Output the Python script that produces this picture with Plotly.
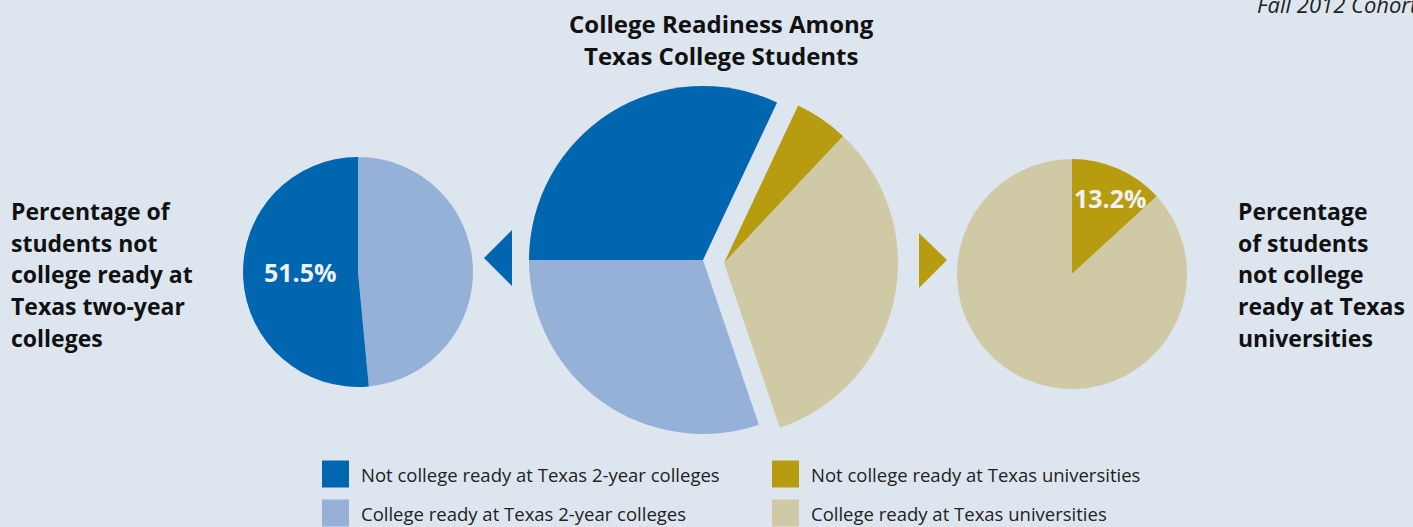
import plotly.graph_objects as go

# ---------------- data ----------------
center_labels = ["Not college ready at Texas 2-year colleges",
                 "Not college ready at Texas universities",
                 "College ready at Texas universities",
                 "College ready at Texas 2-year colleges"]
center_values = [32.0, 5.0, 32.8, 30.2]

left_labels = ["College ready at Texas 2-year colleges",
               "Not college ready at Texas 2-year colleges"]
left_values = [48.5, 51.5]

right_labels = ["Not college ready at Texas universities",
                "College ready at Texas universities"]
right_values = [13.2, 86.8]

legend_order = ["Not college ready at Texas 2-year colleges",
                "College ready at Texas 2-year colleges",
                "Not college ready at Texas universities",
                "College ready at Texas universities"]

title_lines = ["College Readiness Among", "Texas College Students"]
left_text = ["Percentage of", "students not", "college ready at", "Texas two-year", "colleges"]
right_text = ["Percentage", "of students", "not college", "ready at Texas", "universities"]
corner_text = "Fall 2012 Cohort"

colors = {
    "Not college ready at Texas 2-year colleges": "#0066b0",
    "College ready at Texas 2-year colleges": "#95b1d8",
    "Not college ready at Texas universities": "#b89c10",
    "College ready at Texas universities": "#d0c9a5",
}
BG = "#dde6ef"
TRANSP = "rgba(0,0,0,0)"

W, H = 1413, 527
def fx(x): return x / W
def fy(y): return 1 - y / H

FONT = "Open Sans"

fig = go.Figure()

def pie(labels, values, cx, cy, r, rot, direction, colorlist):
    fig.add_trace(go.Pie(
        labels=labels, values=values, sort=False,
        rotation=rot, direction=direction,
        marker=dict(colors=colorlist, line=dict(width=0)),
        textinfo="none", hoverinfo="skip", showlegend=False,
        domain=dict(x=[fx(cx - r), fx(cx + r)], y=[fy(cy + r), fy(cy - r)]),
    ))

# left pie
pie(left_labels, left_values, 358, 272, 115, 0, "clockwise",
    [colors[l] for l in left_labels])
# right pie
pie(right_labels, right_values, 1072, 274, 115, 0, "clockwise",
    [colors[l] for l in right_labels])
# center pie: 2-year group
pie(center_labels, center_values, 703, 260, 174, 270, "clockwise",
    [colors[l] if "2-year" in l else TRANSP for l in center_labels])
# center pie: university group (exploded as a group)
pie(center_labels, center_values, 724, 263, 174, 270, "clockwise",
    [colors[l] if "universities" in l else TRANSP for l in center_labels])

ann = []
# title
for i, t in enumerate(title_lines):
    ann.append(dict(x=fx(721), y=fy(24 + 32 * i), text=t, showarrow=False,
                    xanchor="center", yanchor="middle",
                    font=dict(family=FONT, size=24, color="#111111", weight="bold")))
# side texts
for i, t in enumerate(left_text):
    ann.append(dict(x=fx(9), y=fy(211 + 31.7 * i), text=t, showarrow=False,
                    xanchor="left", yanchor="middle",
                    font=dict(family=FONT, size=23, color="#111111", weight="bold")))
for i, t in enumerate(right_text):
    ann.append(dict(x=fx(1236), y=fy(211 + 31.7 * i), text=t, showarrow=False,
                    xanchor="left", yanchor="middle",
                    font=dict(family=FONT, size=23, color="#111111", weight="bold")))
# pie value labels
ann.append(dict(x=fx(300), y=fy(272), text=f"{left_values[1]}%", showarrow=False,
                xanchor="center", yanchor="middle",
                font=dict(family=FONT, size=25, color="#eef2f7", weight="bold")))
ann.append(dict(x=fx(1110), y=fy(198), text=f"{right_values[0]}%", showarrow=False,
                xanchor="center", yanchor="middle",
                font=dict(family=FONT, size=25, color="#eef2f7", weight="bold")))
# corner italic text (partly cut by the top/right edge, as in the source)
ann.append(dict(x=fx(1255), y=fy(4), text=f"<i>{corner_text}</i>", showarrow=False,
                xanchor="left", yanchor="middle",
                font=dict(family=FONT, size=22, color="#222222")))

shapes = []
# legend (manual, 2 columns)
leg_pos = [(322, 474), (322, 513), (772, 474), (772, 513)]
for lab, (lx, ly) in zip(legend_order, leg_pos):
    shapes.append(dict(type="rect", xref="paper", yref="paper",
                       x0=fx(lx), x1=fx(lx + 27), y0=fy(ly + 13.5), y1=fy(ly - 13.5),
                       fillcolor=colors[lab], line=dict(width=0)))
    ann.append(dict(x=fx(lx + 37), y=fy(ly), text=lab, showarrow=False,
                    xanchor="left", yanchor="middle",
                    font=dict(family=FONT, size=18.5, color="#222222")))

# pointer triangles
def tri(pts, color):
    d = "M " + " L ".join(f"{fx(x)},{fy(y)}" for x, y in pts) + " Z"
    shapes.append(dict(type="path", xref="paper", yref="paper", path=d,
                       fillcolor=color, line=dict(width=0)))
tri([(484, 258), (512, 230), (512, 286)], colors[left_labels[1]])
tri([(947, 260), (919, 233), (919, 288)], colors[right_labels[0]])

fig.update_layout(
    width=W, height=H, autosize=False,
    margin=dict(l=0, r=0, t=0, b=0),
    paper_bgcolor=BG, plot_bgcolor=BG,
    showlegend=False,
    annotations=ann, shapes=shapes,
    font=dict(family=FONT),
)

fig.write_html("out.html", config={"displayModeBar": False},
               post_script="document.body.style.margin='0';document.body.style.overflow='hidden';")
